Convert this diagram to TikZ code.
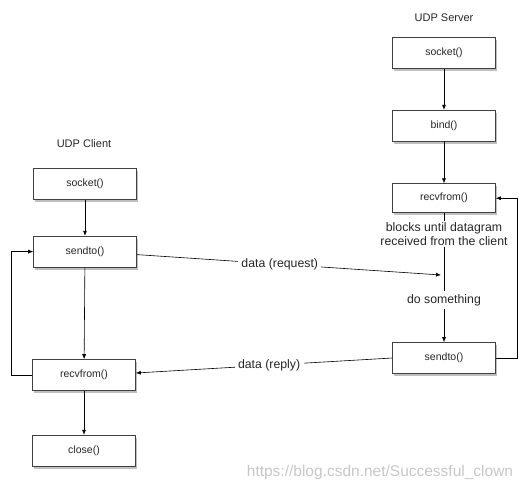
\documentclass[tikz,border=0pt]{standalone}
\usepackage{fontspec}
\setmainfont{Liberation Sans}
\usetikzlibrary{arrows.meta,positioning,shadows}

\begin{document}
\begin{tikzpicture}[x=1pt, y=-1pt, >={Latex[length=5pt,width=4pt]},
  node distance=36pt and 30pt, line width=0.6pt,
  every node/.style={font=\fontsize{10.5}{12}\selectfont, text=black!85},
  fn/.style={draw=black!75, fill=white, minimum width=103pt, minimum height=31pt,
    drop shadow={shadow xshift=1.5pt, shadow yshift=-2.5pt, opacity=0.5}},
  note/.style={font=\fontsize{12.3}{14}\selectfont, align=center},
  title/.style={font=\fontsize{11}{13}\selectfont}]
\useasboundingbox (0,0) rectangle (530,490);
% client side
\node (ctitle) [title] at (84,144) {UDP Client};
\node (csock) [fn] at (85,184) {socket()};
\node (csend) [fn, below=of csock] {sendto()};
\node (crecv) [fn] at (84,375) {recvfrom()};
\node (cclose) [fn, below=44pt of crecv] {close()};
% server side
\node (stitle) [title] at (444,18) {UDP Server};
\node (ssock) [fn] at (444,53) {socket()};
\node (sbind) [fn, below=41pt of ssock] {bind()};
\node (srecv) [fn, below=42pt of sbind, minimum height=29pt] {recvfrom()};
\node (sblock) [note, below=8pt of srecv, inner sep=1pt] {blocks until datagram\\received from the client};
\node (sdo) [note] at (444,300) {do something};
\node (ssend) [fn] at (444,358) {sendto()};
\coordinate (sreq) at (441,275);
\node (url) [font=\fontsize{15.5}{17}\selectfont, text=black!22] at (380,472) {https://blog.csdn.net/Successful\_clown};
% connectors
\draw[->] (csock) -- (csend);
\draw[->] (csend) -- (crecv);
\draw[->] (crecv) -- (cclose);
\draw[->] (crecv.west) -- ++(-21pt,0) |- (csend.west);
\draw[->] (ssock) -- (sbind);
\draw[->] (sbind) -- (srecv);
\draw (srecv) -- (sblock);
\draw (sblock) -- (sdo);
\draw[->] (sdo) -- (ssend);
\draw[->] (ssend.east) -- ++(21pt,0) |- (srecv.east);
\draw[->] ([yshift=-3pt]csend.east) -- node[pos=0.47, fill=white, note] {data (request)} (sreq);
\draw[->] (ssend.west) -- node[pos=0.48, fill=white, note] {data (reply)} ([yshift=2pt]crecv.east);
\end{tikzpicture}
\end{document}
